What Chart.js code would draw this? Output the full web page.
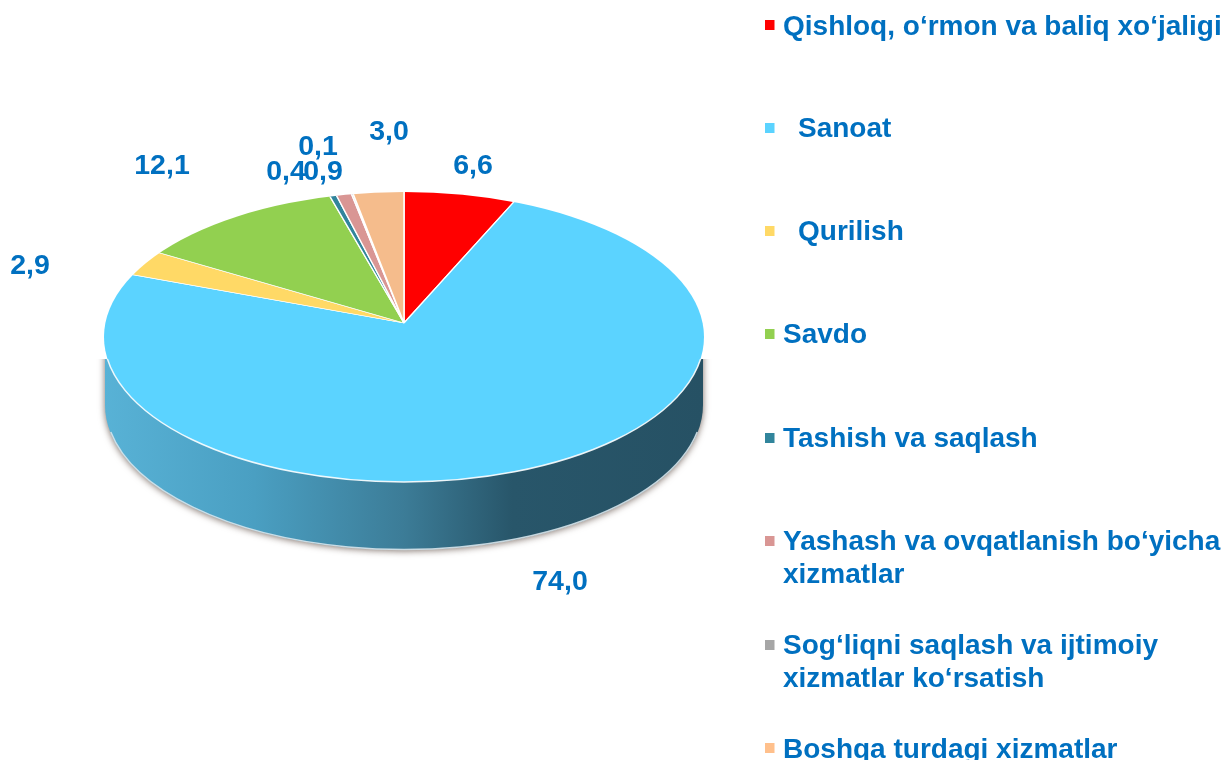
<!DOCTYPE html>
<html>
<head>
<meta charset="utf-8">
<title>Pie</title>
<script src="https://cdn.jsdelivr.net/npm/chart.js@4"></script>
<style>
    html, body { margin: 0; padding: 0; background: #fff; overflow: hidden; }
    #wrap { width: 1225px; height: 760px; }
</style>
</head>
<body>
<div id="wrap"><canvas id="pieChart" width="1225" height="760"></canvas></div>
<script>
// data
const categories = [
    "Qishloq, o‘rmon va baliq xo‘jaligi",
    "Sanoat",
    "Qurilish",
    "Savdo",
    "Tashish va saqlash",
    "Yashash va ovqatlanish bo‘yicha xizmatlar",
    "Sog‘liqni saqlash va ijtimoiy xizmatlar ko‘rsatish",
    "Boshqa turdagi xizmatlar"
];
const values = [6.6, 74.0, 2.9, 12.1, 0.4, 0.9, 0.1, 3.0];
const valueLabels = ["6,6", "74,0", "2,9", "12,1", "0,4", "0,9", "0,1", "3,0"];

// colours
const sliceColors = ['#FF0000', '#5BD3FF', '#FFD966', '#92D050', '#31859C', '#D99694', '#A6A6A6', '#F5BC8C'];
const markerColors = ['#FF0000', '#5BD3FF', '#FFD966', '#92D050', '#31859C', '#D99694', '#A6A6A6', '#FFC08C'];
const textColor = '#0070C0';

// layout of the texts
const labelFont = 'bold 28.5px "Liberation Sans", Arial, sans-serif';
const legendFont = 'bold 28px "Liberation Sans", Arial, sans-serif';
const labelPos = [[473, 174], [560, 590], [30, 274], [162, 174], [286, 180], [323, 180], [318, 155], [389, 140]];
const legendRows = [
    { marker: 20, y: 35, x: 783, lines: ["Qishloq, o‘rmon va baliq xo‘jaligi"] },
    { marker: 123, y: 137, x: 798, lines: ["Sanoat"] },
    { marker: 226, y: 240, x: 798, lines: ["Qurilish"] },
    { marker: 329, y: 343, x: 783, lines: ["Savdo"] },
    { marker: 433, y: 447, x: 783, lines: ["Tashish va saqlash"] },
    { marker: 536, y: 550, x: 783, lines: ["Yashash va ovqatlanish bo‘yicha", "xizmatlar"] },
    { marker: 640, y: 654, x: 783, lines: ["Sog‘liqni saqlash va ijtimoiy", "xizmatlar ko‘rsatish"] },
    { marker: 743, y: 758, x: 783, lines: ["Boshqa turdagi xizmatlar"] }
];

// tilted disc: the slices meet above the middle of the ellipse
const tilt = 0.485;
const discRx = 300;
const discRy = 145;
const apexShift = 14;
const discDepth = 68;
const sideFrom = 22;

function discPath(ctx, cx, cy) {
    ctx.beginPath();
    ctx.ellipse(cx, cy, discRx, discRy, 0, 0, Math.PI * 2);
}

function drawSide(ctx, cx, cy) {
    const grad = ctx.createLinearGradient(cx - discRx, 0, cx + discRx, 0);
    grad.addColorStop(0, '#58B2D6');
    grad.addColorStop(0.25, '#4A9FC2');
    grad.addColorStop(0.5, '#3C7C97');
    grad.addColorStop(0.68, '#28566A');
    grad.addColorStop(1, '#265164');

    ctx.save();
    ctx.beginPath();
    ctx.rect(0, cy + sideFrom, cx + discRx + 40, 400);
    ctx.clip();

    // soft shadow under the disc
    ctx.save();
    ctx.shadowColor = 'rgba(70, 50, 40, 0.7)';
    ctx.shadowBlur = 7;
    ctx.shadowOffsetY = 1;
    ctx.beginPath();
    ctx.ellipse(cx, cy + discDepth, discRx - 1, discRy, 0, 0, Math.PI);
    ctx.lineTo(cx - discRx + 1, cy);
    ctx.lineTo(cx + discRx - 1, cy);
    ctx.closePath();
    ctx.fillStyle = grad;
    ctx.fill();
    ctx.restore();

    // pale rim, only along the lower edge
    ctx.beginPath();
    ctx.ellipse(cx, cy + discDepth, discRx - 1.5, discRy - 0.5, 0, Math.PI * 0.06, Math.PI * 0.94);
    ctx.strokeStyle = 'rgba(215, 228, 235, 0.9)';
    ctx.lineWidth = 1.5;
    ctx.stroke();
    ctx.restore();
}

const tiltPlugin = {
    id: 'tilt',
    beforeDatasetsDraw(chart) {
        const ctx = chart.ctx;
        const arc = chart.getDatasetMeta(0).data[0];
        const cx = arc.x;
        const cy = arc.y + apexShift;
        drawSide(ctx, cx, cy);

        ctx.save();
        discPath(ctx, cx, cy);
        ctx.clip();
        ctx.translate(arc.x, arc.y);
        ctx.scale(1, tilt);
        ctx.translate(-arc.x, -arc.y);
    },
    afterDatasetsDraw(chart) {
        const ctx = chart.ctx;
        const arc = chart.getDatasetMeta(0).data[0];
        const cx = arc.x;
        const cy = arc.y + apexShift;
        ctx.restore();

        // white edge on the front of the disc
        ctx.save();
        ctx.beginPath();
        ctx.rect(0, cy + sideFrom, cx + discRx + 40, 400);
        ctx.clip();
        discPath(ctx, cx, cy);
        ctx.strokeStyle = 'rgba(255, 255, 255, 0.9)';
        ctx.lineWidth = 1.5;
        ctx.stroke();
        ctx.restore();
    }
};

const textPlugin = {
    id: 'texts',
    afterDraw(chart) {
        const ctx = chart.ctx;
        ctx.save();
        ctx.fillStyle = textColor;
        ctx.textBaseline = 'alphabetic';

        // value labels
        ctx.font = labelFont;
        ctx.textAlign = 'center';
        valueLabels.forEach((txt, i) => {
            ctx.fillText(txt, labelPos[i][0], labelPos[i][1]);
        });

        // legend
        ctx.font = legendFont;
        ctx.textAlign = 'left';
        legendRows.forEach((row, i) => {
            ctx.fillStyle = markerColors[i];
            ctx.fillRect(765, row.marker, 9.5, 10);
            ctx.fillStyle = textColor;
            row.lines.forEach((line, n) => {
                ctx.fillText(line, row.x, row.y + n * 33);
            });
        });
        ctx.restore();
    }
};

const config = {
    type: 'pie',
    data: {
        labels: categories,
        datasets: [{
            data: values,
            backgroundColor: sliceColors,
            borderColor: '#ffffff',
            borderWidth: 1.5,
            clip: false
        }]
    },
    options: {
        responsive: false,
        animation: false,
        radius: 340,
        layout: { padding: { left: 0, right: 417, top: 0, bottom: 114 } },
        plugins: {
            legend: { display: false },
            tooltip: { enabled: false }
        }
    },
    plugins: [tiltPlugin, textPlugin]
};

const chart = new Chart(document.getElementById('pieChart').getContext('2d'), config);
</script>
</body>
</html>
